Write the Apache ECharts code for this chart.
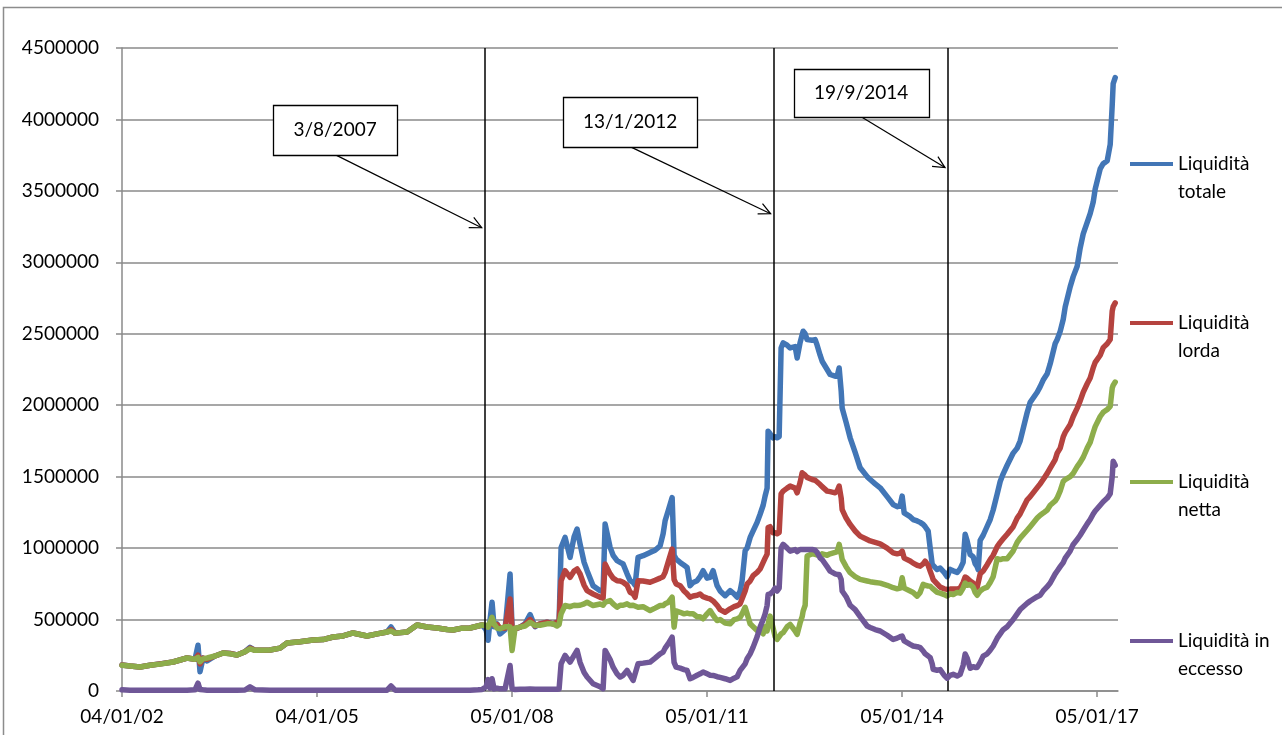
<!DOCTYPE html>
<html>
<head>
<meta charset="utf-8">
<script src="https://cdn.jsdelivr.net/npm/echarts@6/dist/echarts.min.js"></script>
<style>
  html, body { margin: 0; padding: 0; background: #ffffff; }
  #chart { width: 1282px; height: 735px; }
</style>
</head>
<body>
<div id="chart"></div>
<script>
// Series start date (04/01/2002) as a decimal year; the x axis counts years from it.
const START_YEAR = 2002.01;
const X_SPAN_YEARS = 15.32;

const xTickLabels = ['04/01/02', '04/01/05', '05/01/08', '05/01/11', '05/01/14', '05/01/17'];
const seriesNames = ['Liquidità totale', 'Liquidità lorda', 'Liquidità netta', 'Liquidità in eccesso'];

// Observation dates (decimal years)
const years = [
  2002.010, 2002.133, 2002.287, 2002.441, 2002.595, 2002.795, 2003.010, 2003.133, 2003.179, 2003.210,
  2003.256, 2003.318, 2003.441, 2003.564, 2003.672, 2003.779, 2003.902, 2003.979, 2004.056, 2004.287,
  2004.441, 2004.548, 2004.748, 2004.948, 2005.102, 2005.256, 2005.410, 2005.564, 2005.779, 2005.933,
  2006.087, 2006.148, 2006.210, 2006.395, 2006.548, 2006.702, 2006.856, 2007.010, 2007.102, 2007.241,
  2007.364, 2007.487, 2007.548, 2007.610, 2007.641, 2007.672, 2007.702, 2007.733, 2007.779, 2007.825,
  2007.902, 2007.979, 2008.010, 2008.056, 2008.133, 2008.210, 2008.287, 2008.364, 2008.441, 2008.548,
  2008.641, 2008.702, 2008.733, 2008.764, 2008.825, 2008.902, 2008.964, 2009.010, 2009.056, 2009.118,
  2009.164, 2009.256, 2009.364, 2009.410, 2009.441, 2009.518, 2009.564, 2009.625, 2009.672, 2009.718,
  2009.779, 2009.825, 2009.872, 2009.902, 2009.948, 2010.025, 2010.133, 2010.210, 2010.287, 2010.333,
  2010.364, 2010.410, 2010.472, 2010.502, 2010.533, 2010.595, 2010.656, 2010.702, 2010.748, 2010.795,
  2010.856, 2010.902, 2010.948, 2011.010, 2011.056, 2011.102, 2011.164, 2011.210, 2011.287, 2011.364,
  2011.425, 2011.472, 2011.518, 2011.548, 2011.595, 2011.625, 2011.672, 2011.718, 2011.779, 2011.825,
  2011.872, 2011.902, 2011.933, 2011.948, 2011.979, 2012.025, 2012.056, 2012.087, 2012.118, 2012.148,
  2012.179, 2012.241, 2012.287, 2012.364, 2012.395, 2012.441, 2012.472, 2012.487, 2012.518, 2012.548,
  2012.564, 2012.625, 2012.672, 2012.702, 2012.748, 2012.779, 2012.856, 2012.902, 2012.979, 2013.010,
  2013.041, 2013.072, 2013.087, 2013.148, 2013.210, 2013.287, 2013.364, 2013.472, 2013.518, 2013.595,
  2013.672, 2013.779, 2013.872, 2013.933, 2013.979, 2014.010, 2014.041, 2014.133, 2014.179, 2014.241,
  2014.287, 2014.333, 2014.364, 2014.410, 2014.441, 2014.472, 2014.487, 2014.548, 2014.595, 2014.656,
  2014.702, 2014.748, 2014.795, 2014.856, 2014.902, 2014.948, 2014.979, 2015.010, 2015.056, 2015.102,
  2015.133, 2015.164, 2015.179, 2015.210, 2015.256, 2015.318, 2015.364, 2015.410, 2015.472, 2015.518,
  2015.564, 2015.625, 2015.718, 2015.779, 2015.825, 2015.933, 2015.979, 2016.087, 2016.133, 2016.179,
  2016.241, 2016.287, 2016.364, 2016.395, 2016.441, 2016.487, 2016.518, 2016.595, 2016.641, 2016.702,
  2016.748, 2016.795, 2016.856, 2016.902, 2016.948, 2016.979, 2017.056, 2017.102, 2017.164, 2017.210,
  2017.241, 2017.256, 2017.287
];

// Values in thousands
const totale = [
  182, 175, 168, 180, 190, 203, 231, 222, 320, 135,
  230, 210, 245, 266, 262, 252, 275, 305, 285, 287,
  300, 336, 345, 357, 360, 378, 385, 406, 385, 400,
  413, 448, 405, 413, 462, 448, 441, 430, 427, 440,
  441, 455, 462, 430, 355, 500, 621, 450, 470, 400,
  430, 819, 440, 435, 447, 470, 535, 450, 470, 481,
  470, 481, 480, 1005, 1075, 935, 1080, 1133, 1028, 900,
  842, 737, 702, 700, 1168, 1005, 950, 912, 900, 889,
  820, 772, 760, 740, 935, 947, 970, 985, 1016, 1100,
  1191, 1260, 1354, 950, 923, 900, 880, 865, 737, 760,
  772, 800, 842, 790, 795, 842, 737, 700, 667, 702,
  680, 656, 700, 772, 982, 1000, 1075, 1120, 1180, 1237,
  1300, 1365, 1420, 1818, 1800, 1772, 1780, 1772, 1780, 2400,
  2436, 2420, 2401, 2410, 2331, 2440, 2494, 2518, 2500, 2460,
  2448, 2455, 2459, 2420, 2350, 2308, 2250, 2215, 2203, 2203,
  2261, 2100, 1981, 1880, 1772, 1670, 1562, 1500, 1480, 1450,
  1422, 1360, 1305, 1290, 1300, 1364, 1247, 1220, 1200, 1190,
  1180, 1166, 1150, 1119, 1000, 886, 880, 850, 860, 830,
  800, 851, 841, 830, 855, 900, 1097, 1050, 955, 940,
  890, 869, 850, 1054, 1090, 1153, 1200, 1267, 1380, 1466,
  1520, 1580, 1665, 1700, 1750, 1949, 2020, 2091, 2130, 2176,
  2220, 2290, 2432, 2460, 2517, 2600, 2688, 2830, 2900, 2972,
  3100, 3199, 3280, 3341, 3420, 3512, 3654, 3690, 3711, 3824,
  4100, 4250, 4293
];

const lorda = [
  182, 175, 168, 180, 190, 203, 231, 222, 250, 190,
  230, 222, 245, 266, 262, 252, 275, 300, 285, 287,
  300, 336, 345, 357, 360, 378, 385, 406, 385, 400,
  413, 430, 405, 413, 462, 448, 441, 430, 427, 440,
  441, 455, 462, 455, 450, 470, 493, 460, 465, 440,
  440, 644, 440, 435, 447, 465, 500, 455, 470, 481,
  470, 481, 480, 772, 842, 795, 840, 854, 819, 740,
  702, 679, 656, 650, 888, 819, 790, 772, 770, 761,
  740, 691, 680, 656, 772, 770, 761, 775, 790, 800,
  830, 900, 993, 780, 749, 737, 700, 680, 656, 665,
  670, 679, 660, 650, 644, 630, 600, 570, 551, 575,
  590, 598, 610, 621, 700, 749, 770, 807, 830, 854,
  900, 930, 958, 1144, 1150, 1107, 1107, 1100, 1110, 1380,
  1399, 1420, 1434, 1420, 1387, 1460, 1527, 1520, 1510, 1495,
  1492, 1480, 1475, 1469, 1445, 1430, 1399, 1395, 1387, 1400,
  1434, 1350, 1270, 1210, 1166, 1120, 1084, 1060, 1050, 1040,
  1030, 1000, 967, 960, 965, 979, 930, 910, 895, 880,
  874, 890, 909, 880, 839, 800, 780, 750, 727, 715,
  711, 713, 713, 713, 720, 760, 798, 790, 770, 756,
  740, 727, 720, 820, 840, 884, 920, 950, 1011, 1040,
  1065, 1097, 1150, 1210, 1240, 1338, 1360, 1423, 1450, 1480,
  1523, 1560, 1620, 1665, 1700, 1778, 1810, 1865, 1921, 1980,
  2030, 2091, 2150, 2190, 2261, 2300, 2350, 2403, 2430, 2460,
  2659, 2690, 2716
];

const netta = [
  180, 175, 168, 180, 188, 203, 231, 222, 235, 205,
  225, 231, 245, 266, 260, 252, 275, 295, 285, 287,
  300, 336, 345, 357, 360, 378, 385, 406, 385, 400,
  413, 420, 405, 413, 462, 448, 441, 430, 427, 440,
  441, 455, 462, 460, 447, 480, 516, 470, 440, 435,
  450, 450, 284, 440, 447, 455, 481, 460, 460, 470,
  470, 455, 465, 540, 598, 590, 600, 598, 600, 610,
  621, 598, 609, 600, 621, 633, 610, 586, 600, 600,
  610, 598, 600, 590, 586, 590, 563, 580, 598, 598,
  610, 620, 656, 447, 560, 551, 540, 545, 540, 540,
  520, 520, 505, 540, 563, 530, 493, 500, 475, 470,
  500, 505, 516, 540, 586, 586, 470, 450, 423, 420,
  400, 450, 420, 470, 524, 440, 380, 361, 380, 400,
  408, 450, 466, 420, 396, 478, 520, 559, 600, 944,
  950, 960, 956, 956, 945, 960, 950, 960, 970, 975,
  1026, 960, 921, 870, 828, 800, 781, 770, 765, 760,
  755, 740, 723, 715, 720, 793, 720, 700, 690, 664,
  690, 746, 740, 735, 734, 720, 710, 690, 685, 675,
  665, 680, 675, 690, 685, 720, 756, 740, 745, 727,
  690, 670, 670, 700, 715, 727, 760, 800, 926, 920,
  926, 926, 980, 1040, 1070, 1125, 1150, 1210, 1230, 1245,
  1267, 1300, 1330, 1352, 1400, 1466, 1480, 1500, 1523, 1570,
  1600, 1636, 1700, 1740, 1807, 1850, 1921, 1950, 1970, 1992,
  2119, 2140, 2162
];

const eccesso = [
  8, 6, 5, 6, 5, 6, 6, 8, 55, 10,
  8, 6, 6, 6, 5, 6, 7, 30, 8, 6,
  6, 6, 6, 6, 6, 6, 6, 6, 6, 6,
  6, 35, 6, 6, 6, 6, 6, 6, 6, 6,
  6, 8, 10, 30, 80, 20, 86, 15, 20, 15,
  15, 179, 15, 10, 12, 12, 14, 12, 12, 12,
  12, 12, 14, 191, 249, 202, 250, 284, 200, 130,
  98, 51, 30, 16, 284, 220, 167, 120, 98, 110,
  144, 109, 74, 63, 191, 195, 202, 230, 260, 272,
  300, 330, 377, 200, 167, 160, 150, 144, 86, 95,
  110, 120, 133, 120, 110, 109, 100, 95, 86, 74,
  90, 100, 144, 150, 190, 226, 260, 307, 380, 447,
  500, 540, 600, 676, 679, 699, 720, 700, 720, 1000,
  1026, 1000, 979, 990, 975, 991, 990, 995, 990, 988,
  991, 991, 985, 970, 932, 920, 870, 839, 820, 816,
  816, 780, 700, 660, 600, 570, 520, 455, 445, 430,
  420, 390, 361, 370, 380, 385, 350, 326, 315, 310,
  303, 280, 260, 245, 233, 190, 152, 145, 150, 110,
  90, 110, 117, 105, 116, 180, 259, 230, 159, 170,
  165, 165, 173, 200, 244, 260, 285, 315, 370, 400,
  429, 450, 500, 540, 570, 614, 630, 660, 670, 700,
  730, 756, 820, 840, 870, 898, 930, 980, 1026, 1060,
  1090, 1125, 1170, 1200, 1239, 1260, 1300, 1324, 1350, 1381,
  1500, 1608, 1580
];

// Break dates marked with vertical lines
const eventYears = [2007.589, 2012.033, 2014.715];
const eventLabels = ['3/8/2007', '13/1/2012', '19/9/2014'];

// Callout layout: box centre (decimal year, value), box size in px, arrow-tip value
const callouts = [
  { box: [2005.287, 3929000], w: 124, h: 50, tip: 3242000 },
  { box: [2009.825, 3985000], w: 134, h: 50, tip: 3340000 },
  { box: [2013.379, 4187000], w: 135, h: 48, tip: 3663000 }
];

const colors = ['#4276B6', '#B5433F', '#8DAD4B', '#6F5797'];
const AXIS_GREY = '#8a8a8a';
const FONT = 'Lato, "Open Sans", sans-serif';
const LINE_W = 5.5;

const valueLists = [totale, lorda, netta, eccesso];
const toX = y => y - START_YEAR;

const chart = echarts.init(document.getElementById('chart'), null, { renderer: 'canvas' });

const series = seriesNames.map((name, k) => ({
  name: name,
  type: 'line',
  symbol: 'none',
  showSymbol: false,
  data: years.map((y, i) => [toX(y), valueLists[k][i] * 1000]),
  lineStyle: { color: colors[k], width: LINE_W, join: 'round', cap: 'round' },
  itemStyle: { color: colors[k] },
  emphasis: { disabled: true },
  z: 2 + k,
  animation: false
}));

// vertical event lines
series.push({
  name: 'eventi',
  type: 'line',
  data: [],
  silent: true,
  z: 10,
  markLine: {
    silent: true,
    symbol: ['none', 'none'],
    animation: false,
    label: { show: false },
    lineStyle: { color: '#000000', width: 1.5, type: 'solid' },
    data: eventYears.map(y => ({ xAxis: toX(y) }))
  }
});

const option = {
  animation: false,
  backgroundColor: '#ffffff',
  textStyle: { fontFamily: FONT },
  grid: { left: 122, right: 164, top: 48, bottom: 44, containLabel: false, outerBoundsMode: 'none' },
  xAxis: {
    type: 'value',
    min: 0,
    max: X_SPAN_YEARS,
    interval: 3,
    splitLine: { show: false },
    axisLine: { show: true, lineStyle: { color: AXIS_GREY, width: 1.5 } },
    axisTick: { show: true, length: 6, customValues: [0, 3, 6, 9, 12, 15], lineStyle: { color: AXIS_GREY, width: 1.5 } },
    axisLabel: {
      customValues: [0, 3, 6, 9, 12, 15],
      color: '#000', fontSize: 19, fontFamily: FONT, margin: 16,
      formatter: v => xTickLabels[Math.round(v / 3)] || ''
    }
  },
  yAxis: {
    type: 'value',
    min: 0,
    max: 4500000,
    interval: 500000,
    axisLine: { show: true, lineStyle: { color: AXIS_GREY, width: 1.5 } },
    axisTick: { show: true, length: 6, lineStyle: { color: AXIS_GREY, width: 1.5 } },
    axisLabel: { color: '#000', fontSize: 19, fontFamily: FONT, margin: 23, formatter: v => String(v) },
    splitLine: { show: true, lineStyle: { color: AXIS_GREY, width: 1.5 } }
  },
  legend: {
    data: seriesNames.map((n, k) => ({ name: n, icon: 'rect', itemStyle: { color: colors[k] } })),
    orient: 'vertical',
    left: 1130,
    top: 122,
    padding: 0,
    itemWidth: 43,
    itemHeight: 4,
    itemGap: 75,
    selectedMode: false,
    // a leading empty line keeps the icon level with the first text line
    formatter: name => {
      const cut = name.lastIndexOf(' ');
      return '\n' + name.slice(0, cut) + '\n' + name.slice(cut + 1);
    },
    textStyle: { color: '#000', fontSize: 19, fontFamily: FONT, lineHeight: 28 }
  },
  series: series
};

chart.setOption(option);

// Outer frame and the dated callouts with their arrows
function buildGraphics() {
  const els = [{
    type: 'rect',
    silent: true,
    shape: { x: 3.5, y: 7.5, width: 1400, height: 900 },
    style: { fill: 'none', stroke: '#8c8c8c', lineWidth: 1.5 },
    z: 0
  }];
  callouts.forEach((c, i) => {
    const centre = chart.convertToPixel({ xAxisIndex: 0, yAxisIndex: 0 }, [toX(c.box[0]), c.box[1]]);
    const lineX = chart.convertToPixel({ xAxisIndex: 0, yAxisIndex: 0 }, [toX(eventYears[i]), c.tip]);
    const tail = [centre[0], centre[1] + c.h / 2];
    const tip = [lineX[0] - 3, lineX[1]];
    const ang = Math.atan2(tip[1] - tail[1], tip[0] - tail[0]);
    const headLen = 13, spread = 0.45;
    const h1 = [tip[0] - headLen * Math.cos(ang - spread), tip[1] - headLen * Math.sin(ang - spread)];
    const h2 = [tip[0] - headLen * Math.cos(ang + spread), tip[1] - headLen * Math.sin(ang + spread)];
    els.push({
      type: 'polyline', silent: true, z: 20,
      shape: { points: [tail, tip] },
      style: { stroke: '#000', lineWidth: 1.2, fill: null }
    });
    els.push({
      type: 'polyline', silent: true, z: 20,
      shape: { points: [h1, tip, h2] },
      style: { stroke: '#000', lineWidth: 1.2, fill: null }
    });
    els.push({
      type: 'rect', silent: true, z: 21,
      shape: { x: Math.round(centre[0] - c.w / 2) + 0.5, y: Math.round(centre[1] - c.h / 2) + 0.5, width: c.w, height: c.h },
      style: { fill: '#ffffff', stroke: '#000', lineWidth: 1.3 }
    });
    els.push({
      type: 'text', silent: true, z: 22,
      x: centre[0], y: centre[1],
      style: { text: eventLabels[i], fill: '#000', font: '19px ' + FONT, align: 'center', verticalAlign: 'middle' }
    });
  });
  chart.setOption({ graphic: { elements: els } });
}
buildGraphics();
</script>
</body>
</html>
